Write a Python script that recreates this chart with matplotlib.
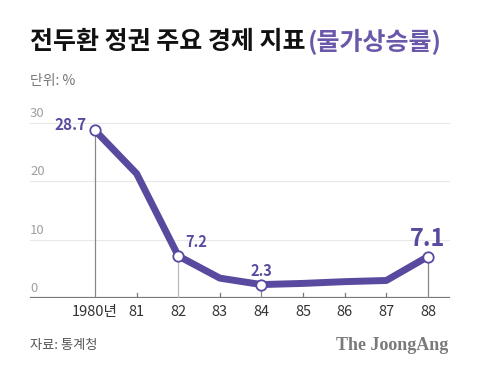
import matplotlib
matplotlib.use("Agg")
import matplotlib.pyplot as plt

plt.rcParams['font.family'] = ['Noto Sans CJK KR', 'DejaVu Sans']

years = ["1980년", "81", "82", "83", "84", "85", "86", "87", "88"]
inflation = [28.7, 21.3, 7.2, 3.4, 2.3, 2.5, 2.8, 3.0, 7.1]
labeled = {0: "28.7", 2: "7.2", 4: "2.3", 8: "7.1"}
yticks = [0, 10, 20, 30]

purple = "#5a4a9f"
grid_gray = "#e8e8e8"

fig = plt.figure(figsize=(4.8, 3.72), dpi=100)
W, H = 480, 372
ax = fig.add_axes([30 / W, (H - 298) / H, 420 / W, 188 / H])
ax.set_xlim(-1.5625, 8.53)
ax.set_ylim(0, 32.2)
ax.axis("off")

x = list(range(len(years)))

# grid + y labels
for v in yticks[1:]:
    ax.axhline(v, color=grid_gray, lw=0.8, zorder=0)
for v in yticks:
    ax.annotate(str(v), (-1.5625, v), xytext=(0, 2), textcoords="offset points",
                ha="left", va="bottom", fontsize=9.5, color="#a0a0a0")
ax.axhline(0, color="#777777", lw=1.6, zorder=1)

# ticks / drop lines
for i in x:
    if i in labeled:
        ax.plot([i, i], [0, inflation[i]], color="#888888" if i != 2 else "#bbbbbb",
                lw=0.9, zorder=1)
    else:
        ax.plot([i, i], [0, 0.9], color="#777777", lw=0.9, zorder=1)
    ax.annotate(years[i], (i, 0), xytext=(0, -5), textcoords="offset points",
                ha="center", va="top", fontsize=10.5, color="#333333",
                fontweight="light")

ax.plot(x, inflation, color=purple, lw=5, solid_joinstyle="round", zorder=2)
idx = list(labeled.keys())
ax.plot(idx, [inflation[i] for i in idx], "o", ms=7.5, mfc="white", mec=purple,
        mew=1.3, zorder=3, ls="none")

ax.annotate("28.7", (0, inflation[0]), xytext=(-6, 4), textcoords="offset points",
            ha="right", va="center", fontsize=11, fontweight="bold", color=purple)
ax.annotate("7.2", (2, inflation[2]), xytext=(5, 4), textcoords="offset points",
            ha="left", va="bottom", fontsize=10.5, fontweight="bold", color=purple)
ax.annotate("2.3", (4, inflation[4]), xytext=(0, 4), textcoords="offset points",
            ha="center", va="bottom", fontsize=10.5, fontweight="bold", color=purple)
ax.annotate("7.1", (8, inflation[8]), xytext=(0, 4), textcoords="offset points",
            ha="center", va="bottom", fontsize=17, fontweight="bold", color=purple)

# title
t1 = fig.text(30 / W, 1 - 42 / H, "전두환 정권 주요 경제 지표", fontsize=18,
              fontweight="black", color="#111111", va="center", ha="left")
fig.canvas.draw()
bb = t1.get_window_extent()
fig.text((bb.x1 + 2) / W, 1 - 42 / H, "(물가상승률)", fontsize=18,
         fontweight="black", color="#6b58aa", va="center", ha="left")
fig.text(30 / W, 1 - 81 / H, "단위: %", fontsize=10, color="#777777",
         va="center", ha="left")
fig.text(30 / W, 1 - 346 / H, "자료: 통계청", fontsize=9.5, color="#555555",
         va="center", ha="left", fontweight="medium")
fig.text(448 / W, 1 - 346 / H, "The JoongAng", fontsize=13, color="#7a7a7a",
         va="center", ha="right", family="Liberation Serif", fontweight="bold")

fig.savefig("out.png", dpi=100)
